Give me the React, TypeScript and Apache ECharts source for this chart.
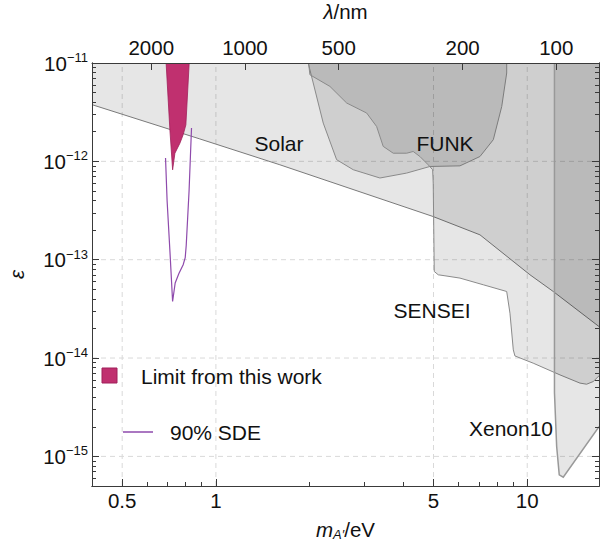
import React, { useEffect, useRef } from "react";
import * as echarts from "echarts";

// ---------- data (m in eV, epsilon) ----------
const X_MIN = 0.4;
const X_MAX = 17;
const Y_MIN = 5e-16;
const Y_MAX = 1e-11;
const HC = 1239.84; // eV*nm

const X_MAJOR = [0.5, 1, 5, 10];
const LAMBDA_TICKS = [2000, 1000, 500, 200, 100];
const Y_MAJOR_EXP = [-11, -12, -13, -14, -15];
const GRID_X = [0.5, 1, 5, 10];
const GRID_Y = [1e-12, 1e-13, 1e-14, 1e-15];

const SOLAR_M = [0.4, 0.888, 1.605, 4.98, 7.05, 10.2, 12.13, 17];
const SOLAR_EPS = [3.77e-12, 1.69e-12, 9.23e-13, 2.75e-13, 1.79e-13, 7.03e-14, 4.74e-14, 2.09e-14];

const FUNK_M = [1.979, 2.054, 2.212, 2.442, 2.761, 3.364, 4.099, 4.869, 6.08, 7.05, 7.78, 8.28, 8.59, 8.59];
const FUNK_EPS = [1e-11, 6.26e-12, 2.45e-12, 1.04e-12, 8.22e-13, 6.77e-13, 7.6e-13, 8.87e-13, 9.0e-13, 1.12e-12, 1.66e-12, 3.61e-12, 7.91e-12, 1e-11];

const SENSEI_M = [1.985, 2.004, 2.324, 2.63, 3.049, 3.283, 3.446, 3.712, 4.099, 4.302, 4.521, 4.808, 4.967, 4.989, 5.027, 5.178, 5.441, 6.08, 7.224, 8.59, 8.8, 9.02, 9.13, 10.45, 12.74, 14.77, 15.51, 16.29, 17];
const SENSEI_EPS = [1e-11, 7.6e-12, 5.78e-12, 3.92e-12, 3.1e-12, 2.26e-12, 1.42e-12, 1.21e-12, 1.21e-12, 1.26e-12, 1.12e-12, 9.22e-13, 8.22e-13, 6.01e-13, 7.59e-14, 7.02e-14, 6.86e-14, 6.5e-14, 5.56e-14, 4.75e-14, 2.86e-14, 1.21e-14, 1.05e-14, 8.87e-15, 6.74e-15, 5.56e-15, 5.42e-15, 5.77e-15, 6.6e-15];

const XENON_M = [12.23, 12.23, 12.43, 12.67, 13.05, 17];
const XENON_EPS = [1e-11, 4.43e-15, 1.26e-15, 6.49e-16, 6.14e-16, 2.01e-15];

const LIMIT_M = [0.692, 0.7116, 0.7261, 0.7385, 0.7663, 0.7852, 0.8008, 0.8207];
const LIMIT_EPS = [1e-11, 2.09e-12, 8.2e-13, 1.21e-12, 1.53e-12, 1.87e-12, 2.35e-12, 1e-11];

const SDE_M = [0.689, 0.697, 0.712, 0.726, 0.74, 0.76, 0.785, 0.797, 0.803, 0.82, 0.835];
const SDE_EPS = [1.08e-12, 4.0e-13, 1.2e-13, 3.76e-14, 5.8e-14, 7.2e-14, 8.9e-14, 1.05e-13, 1.4e-13, 5.0e-13, 2.18e-12];

// ---------- styles ----------
const FONT = "'Liberation Sans', Arial, Helvetica, sans-serif";
const FS = 20.5;
const AXIS_COLOR = "#3a3a3a";
const TEXT_COLOR = "#111";
const REGION_FILL = "rgba(0,0,0,0.097)";
const REGION_STROKE = "#8a8a8a";
const MAGENTA = "#c0306f";
const MAGENTA_DARK = "#a01f5a";
const PURPLE = "#8e4aac";

const L = Math.log10;
const xMinL = L(X_MIN);
const xMaxL = L(X_MAX);
const yMinL = L(Y_MIN);
const yMaxL = L(Y_MAX);

function logMinor(lo: number, hi: number, majors: number[]) {
  const out: number[] = [];
  for (let d = Math.floor(L(lo)) - 1; d <= Math.ceil(L(hi)); d++) {
    for (let k = 1; k <= 9; k++) {
      const v = k * Math.pow(10, d);
      if (v < lo * 0.9999 || v > hi * 1.0001) continue;
      if (majors.some((m) => Math.abs(m - v) / v < 1e-6)) continue;
      out.push(L(v));
    }
  }
  return out;
}

const X_MINOR = logMinor(X_MIN, X_MAX, X_MAJOR).filter((v) => {
  const m = Math.pow(10, v);
  return !(m > 10.0001 && m < 20);
});
const Y_MINOR = logMinor(Y_MIN, Y_MAX, Y_MAJOR_EXP.map((e) => Math.pow(10, e)));

const zip = (ms: number[], es: number[]) => ms.map((m, i) => [L(m), L(es[i])]);

function regionSeries(ms: number[], es: number[], fill: string, stroke: string, lw: number, z: number, closeTop: boolean) {
  const pts = zip(ms, es);
  return {
    type: "custom",
    coordinateSystem: "cartesian2d",
    xAxisIndex: 0,
    yAxisIndex: 0,
    clip: true,
    z,
    silent: true,
    data: [pts[0]],
    renderItem: (_p: any, api: any) => {
      const line = pts.map((p) => api.coord(p));
      const poly = closeTop
        ? [...line, api.coord([pts[pts.length - 1][0], yMaxL]), api.coord([pts[0][0], yMaxL])]
        : line;
      return {
        type: "group",
        children: [
          { type: "polygon", shape: { points: poly }, style: { fill, stroke: "none" } },
          { type: "polyline", shape: { points: line }, style: { fill: "none", stroke, lineWidth: lw } },
        ],
      };
    },
  };
}

const axisLine = { show: true, onZero: false, lineStyle: { color: AXIS_COLOR, width: 1 } };

function xAxisDef(position: string, tickVals: number[], len: number, extra: any = {}) {
  return {
    type: "value",
    position,
    min: xMinL,
    max: xMaxL,
    z: 10,
    axisLine,
    splitLine: { show: false },
    axisTick: { show: true, inside: true, length: len, customValues: tickVals, lineStyle: { color: AXIS_COLOR, width: 1 } },
    axisLabel: { show: false },
    ...extra,
  };
}

function yAxisDef(position: string, tickVals: number[], len: number, extra: any = {}) {
  return {
    type: "value",
    position,
    min: yMinL,
    max: yMaxL,
    z: 10,
    axisLine,
    splitLine: { show: false },
    axisTick: { show: true, inside: true, length: len, customValues: tickVals, lineStyle: { color: AXIS_COLOR, width: 1 } },
    axisLabel: { show: false },
    ...extra,
  };
}

const option: any = {
  animation: false,
  backgroundColor: "#fff",
  grid: { left: 92, right: 6, top: 63, bottom: 65, containLabel: false, outerBoundsMode: "none" },
  xAxis: [
    xAxisDef("bottom", X_MAJOR.map(L), 7, {
      axisLabel: {
        show: true,
        customValues: X_MAJOR.map(L),
        formatter: (v: number) => String(Number(Math.pow(10, v).toPrecision(4))),
        fontSize: FS,
        fontFamily: FONT,
        color: TEXT_COLOR,
        margin: 4,
      },
      name: "{i|m}{sub|A′}{n|/eV}",
      nameLocation: "middle",
      nameGap: 31,
      nameTextStyle: {
        rich: {
          i: { fontSize: FS, fontStyle: "italic", fontFamily: FONT, color: TEXT_COLOR, lineHeight: 24 },
          sub: { fontSize: 13, fontStyle: "italic", fontFamily: FONT, color: TEXT_COLOR, lineHeight: 12, verticalAlign: "bottom" },
          n: { fontSize: FS, fontFamily: FONT, color: TEXT_COLOR, lineHeight: 24 },
        },
      },
    }),
    xAxisDef("bottom", X_MINOR, 4),
    xAxisDef("top", LAMBDA_TICKS.map((l) => L(HC / l)), 7, {
      axisLabel: {
        show: true,
        customValues: LAMBDA_TICKS.map((l) => L(HC / l)),
        formatter: (v: number) => String(Math.round(HC / Math.pow(10, v))),
        fontSize: FS,
        fontFamily: FONT,
        color: TEXT_COLOR,
        margin: 5,
      },
      name: "{i|λ}{n|/nm}",
      nameLocation: "middle",
      nameGap: 41,
      nameTextStyle: {
        rich: {
          i: { fontSize: FS, fontStyle: "italic", fontFamily: FONT, color: TEXT_COLOR },
          n: { fontSize: FS, fontFamily: FONT, color: TEXT_COLOR },
        },
      },
    }),
  ],
  yAxis: [
    yAxisDef("left", Y_MAJOR_EXP, 7, {
      axisLabel: {
        show: true,
        customValues: Y_MAJOR_EXP,
        formatter: (v: number) => `{b|10}{s|−${Math.round(-v)}}`,
        margin: 4,
        rich: {
          b: { fontSize: FS, fontFamily: FONT, color: TEXT_COLOR, lineHeight: 24 },
          s: { fontSize: 13, fontFamily: FONT, color: TEXT_COLOR, lineHeight: 16, verticalAlign: "top" },
        },
      },
      name: "ε",
      nameLocation: "middle",
      nameRotate: 90,
      nameGap: 66,
      nameTextStyle: { fontSize: FS, fontStyle: "italic", fontFamily: FONT, color: TEXT_COLOR },
    }),
    yAxisDef("left", Y_MINOR, 4),
    yAxisDef("right", Y_MAJOR_EXP, 7),
    yAxisDef("right", Y_MINOR, 4),
  ],
  series: [
    {
      type: "custom",
      coordinateSystem: "cartesian2d",
      xAxisIndex: 0,
      yAxisIndex: 0,
      z: 1,
      silent: true,
      clip: true,
      data: [[L(GRID_X[0]), L(GRID_Y[0])]],
      renderItem: (_p: any, api: any) => {
        const style = { stroke: "#d9d9d9", lineWidth: 1, lineDash: [5, 4] };
        const children: any[] = [];
        GRID_X.forEach((m) => {
          const a = api.coord([L(m), yMinL]);
          const b = api.coord([L(m), yMaxL]);
          children.push({ type: "line", shape: { x1: a[0], y1: a[1], x2: b[0], y2: b[1] }, style });
        });
        GRID_Y.forEach((e) => {
          const a = api.coord([xMinL, L(e)]);
          const b = api.coord([xMaxL, L(e)]);
          children.push({ type: "line", shape: { x1: a[0], y1: a[1], x2: b[0], y2: b[1] }, style });
        });
        return { type: "group", children };
      },
    },
    regionSeries(SOLAR_M, SOLAR_EPS, REGION_FILL, "#7a7a7a", 1, 2, true),
    regionSeries(FUNK_M, FUNK_EPS, REGION_FILL, REGION_STROKE, 1, 3, true),
    regionSeries(SENSEI_M, SENSEI_EPS, REGION_FILL, REGION_STROKE, 1, 4, true),
    regionSeries(XENON_M, XENON_EPS, REGION_FILL, "#999999", 1.5, 5, true),
    regionSeries(LIMIT_M, LIMIT_EPS, MAGENTA, MAGENTA_DARK, 0.8, 6, false),
    {
      type: "custom",
      coordinateSystem: "cartesian2d",
      xAxisIndex: 0,
      yAxisIndex: 0,
      z: 7,
      silent: true,
      clip: true,
      data: [zip(SDE_M, SDE_EPS)[0]],
      renderItem: (_p: any, api: any) => ({
        type: "polyline",
        shape: { points: zip(SDE_M, SDE_EPS).map((p) => api.coord(p)) },
        style: { fill: "none", stroke: PURPLE, lineWidth: 1.2 },
      }),
    },
  ],
  graphic: [
    { type: "text", x: 279, y: 143, z: 20, style: { text: "Solar", fontSize: 21, fontFamily: FONT, fill: TEXT_COLOR, align: "center", verticalAlign: "middle" } },
    { type: "text", x: 445, y: 143, z: 20, style: { text: "FUNK", fontSize: 21, fontFamily: FONT, fill: TEXT_COLOR, align: "center", verticalAlign: "middle" } },
    { type: "text", x: 432, y: 310, z: 20, style: { text: "SENSEI", fontSize: 21, fontFamily: FONT, fill: TEXT_COLOR, align: "center", verticalAlign: "middle" } },
    { type: "text", x: 511, y: 428, z: 20, style: { text: "Xenon10", fontSize: 21, fontFamily: FONT, fill: TEXT_COLOR, align: "center", verticalAlign: "middle" } },
    { type: "rect", z: 20, shape: { x: 102, y: 368, width: 15, height: 15 }, style: { fill: MAGENTA, stroke: MAGENTA_DARK, lineWidth: 1 } },
    { type: "text", x: 141, y: 376, z: 20, style: { text: "Limit from this work", fontSize: 21, fontFamily: FONT, fill: TEXT_COLOR, align: "left", verticalAlign: "middle" } },
    { type: "line", z: 20, shape: { x1: 123, y1: 432, x2: 153, y2: 432 }, style: { stroke: PURPLE, lineWidth: 1.5 } },
    { type: "text", x: 170, y: 432, z: 20, style: { text: "90% SDE", fontSize: 21, fontFamily: FONT, fill: TEXT_COLOR, align: "left", verticalAlign: "middle" } },
  ],
};

export default function App() {
  const ref = useRef<HTMLDivElement>(null);
  useEffect(() => {
    if (!ref.current) return;
    const chart = echarts.init(ref.current, null, { renderer: "svg" });
    chart.setOption(option);
    return () => chart.dispose();
  }, []);
  return (
    <div
      ref={ref}
      style={{ position: "absolute", left: 0, top: 0, width: 605, height: 551, background: "#fff" }}
    />
  );
}
